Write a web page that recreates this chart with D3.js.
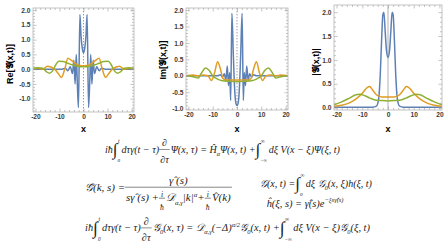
<!DOCTYPE html>
<html>
<head>
<meta charset="utf-8">
<script src="https://cdn.jsdelivr.net/npm/d3@7"></script>
<style>
  body { margin: 0; background: #fff; }
  svg { display: block; }
</style>
</head>
<body>
<svg id="chart" width="448" height="252"></svg>
<script>
// ---- data ----
const xTicks = [-20, -10, 0, 10, 20];
const xTickLabels = ['-20', '-10', '0', '10', '20'];
const xMinor = [-18, -16, -14, -12, -8, -6, -4, -2, 2, 4, 6, 8, 12, 14, 16, 18];
const yTicksReIm = [-1.0, -0.5, 0, 0.5, 1.0, 1.5, 2.0];
const yTickLabelsReIm = ['-1.0', '-0.5', '0.0', '0.5', '1.0', '1.5', '2.0'];
const yTicksAbs = [0, 0.5, 1.0, 1.5, 2.0];
const yTickLabelsAbs = ['0.0', '0.5', '1.0', '1.5', '2.0'];

// Re
const reBlueX = [-21, -9, -7.5, -6.5, -5.5, -4.6, -4.0, -3.5, -3.0, -2.6, -2.1, -1.5, -1.0, -0.5, 0, 0.5, 1.0, 1.5, 2.1, 2.6, 3.0, 3.5, 4.0, 4.6, 5.5, 6.5, 7.5, 9, 21];
const reBlueY = [0, 0, 0.03, -0.05, 0.08, -0.15, 0.3, -0.5, 0.5, -0.4, -1.3, 1.85, 1.1, 0.7, 0.55, 0.7, 1.1, 1.85, -1.3, -0.4, 0.5, -0.5, 0.3, -0.15, 0.08, -0.05, 0.03, 0, 0];
const reOrangeX = [-21, -19, -17, -15, -12, -10.5, -9.2, -7.8, -6.5, -5, -3, -1.5, 0, 1.5, 3, 5, 6.5, 7.8, 9.2, 10.5, 12, 15, 17, 19, 21];
const reOrangeY = [0.01, 0.03, 0.0, 0.1, 0.0, -0.15, -0.28, 0.0, 0.37, 0.3, 0.17, 0.12, 0.11, 0.12, 0.17, 0.3, 0.37, 0.0, -0.28, -0.15, 0.0, 0.1, 0.0, 0.03, 0.01];
const reGreenX = [-21, -19, -17, -15.5, -14.2, -12.8, -11.5, -10.3, -8.5, -6.5, -4.5, -2.5, 0, 2.5, 4.5, 6.5, 8.5, 10.3, 11.5, 12.8, 14.2, 15.5, 17, 19, 21];
const reGreenY = [0.03, 0.05, 0.03, -0.08, -0.14, -0.05, 0.15, 0.27, 0.26, 0.2, 0.14, 0.1, 0.08, 0.1, 0.14, 0.2, 0.26, 0.27, 0.15, -0.05, -0.14, -0.08, 0.03, 0.05, 0.03];

// Im
const imBlueX = [-21, -8, -6.8, -6.0, -5.2, -4.6, -4.0, -3.5, -3.0, -2.6, -2.1, -1.5, -0.9, -0.4, 0, 0.4, 0.9, 1.5, 2.1, 2.6, 3.0, 3.5, 4.0, 4.6, 5.2, 6.0, 6.8, 8, 21];
const imBlueY = [0, 0, 0.03, -0.04, 0.06, -0.15, 0.3, -0.3, 0.1, -0.75, 1.9, 0.6, -0.5, -0.85, -0.9, -0.85, -0.5, 0.6, 1.9, -0.75, 0.1, -0.3, 0.3, -0.15, 0.06, -0.04, 0.03, 0, 0];
const imOrangeX = [-21, -18, -16, -14, -12, -10.5, -9.2, -8, -6.8, -5.8, -4.5, -2.5, 0, 2.5, 4.5, 5.8, 6.8, 8, 9.2, 10.5, 12, 14, 16, 18, 21];
const imOrangeY = [0, 0.02, 0.0, 0.02, 0.0, -0.14, 0.1, 0.43, 0.2, -0.08, -0.13, -0.13, -0.13, -0.13, -0.13, -0.08, 0.2, 0.43, 0.1, -0.14, 0.0, 0.02, 0.0, 0.02, 0];
const imGreenX = [-21, -18, -16, -14.5, -13, -11.5, -10, -8, -6, -3, 0, 3, 6, 8, 10, 11.5, 13, 14.5, 16, 18, 21];
const imGreenY = [0, -0.03, -0.07, 0.1, 0.24, 0.17, 0.0, -0.1, -0.15, -0.17, -0.18, -0.17, -0.15, -0.1, 0.0, 0.17, 0.24, 0.1, -0.07, -0.03, 0];

// |.|
const absBlueX = [-21, -6, -4.5, -3.6, -3.0, -2.5, -2.0, -1.6, -1.1, -0.6, 0, 0.6, 1.1, 1.6, 2.0, 2.5, 3.0, 3.6, 4.5, 6, 21];
const absBlueY = [0.01, 0.01, 0.03, 0.2, 0.7, 1.4, 1.95, 2.0, 1.6, 1.2, 1.05, 1.2, 1.6, 2.0, 1.95, 1.4, 0.7, 0.2, 0.03, 0.01, 0.01];
const absOrangeX = [-21, -18, -15, -12, -10, -8.5, -7.2, -6, -4.5, -3, -1.5, 0, 1.5, 3, 4.5, 6, 7.2, 8.5, 10, 12, 15, 18, 21];
const absOrangeY = [0.03, 0.05, 0.1, 0.2, 0.3, 0.4, 0.44, 0.37, 0.27, 0.23, 0.22, 0.22, 0.22, 0.23, 0.27, 0.37, 0.44, 0.4, 0.3, 0.2, 0.1, 0.05, 0.03];
const absGreenX = [-21, -18, -15, -12.5, -11, -9, -7, -5, -3, 0, 3, 5, 7, 9, 11, 12.5, 15, 18, 21];
const absGreenY = [0.06, 0.12, 0.2, 0.27, 0.28, 0.25, 0.2, 0.16, 0.15, 0.14, 0.15, 0.16, 0.2, 0.25, 0.28, 0.27, 0.2, 0.12, 0.06];

const colors = { blue: '#5e81b5', orange: '#e19c24', green: '#8fb032' };

const svg = d3.select('#chart');
svg.append('rect').attr('width', 448).attr('height', 252).attr('fill', '#fff');

const zip = (xs, ys) => xs.map((x, i) => [x, ys[i]]);

function panel(o) {
  const x = d3.scaleLinear().domain([-21, 21]).range([o.left, o.right]);
  const y = d3.scaleLinear().domain(o.yDomain).range([o.bottom, o.top]);
  const g = svg.append('g');
  const id = 'clip' + o.id;

  g.append('clipPath').attr('id', id).append('rect')
    .attr('x', o.left).attr('y', o.top)
    .attr('width', o.right - o.left).attr('height', o.bottom - o.top);

  // zero line
  g.append('line')
    .attr('x1', x(0)).attr('x2', x(0))
    .attr('y1', o.top).attr('y2', o.bottom)
    .attr('stroke', o.dashed ? '#9a9a9a' : '#a8a8a8')
    .attr('stroke-width', o.dashed ? 1 : 0.9)
    .attr('stroke-dasharray', o.dashed ? '1.4,1.6' : null);

  const line = d3.line().x(d => x(d[0])).y(d => y(d[1])).curve(d3.curveMonotoneX);
  const plot = g.append('g').attr('clip-path', `url(#${id})`);
  o.series.forEach(s => {
    plot.append('path')
      .attr('d', line(zip(s.x, s.y)))
      .attr('fill', 'none')
      .attr('stroke', colors[s.c])
      .attr('stroke-width', 1.5)
      .attr('stroke-linejoin', 'round');
  });

  // frame + ticks
  const tickStyle = sel => {
    sel.select('.domain').remove();
    sel.selectAll('line').attr('stroke', '#9c9c9c').attr('stroke-width', 0.6);
    sel.selectAll('text').attr('font-family', 'Liberation Sans, Arial, sans-serif')
      .attr('font-size', 6.6).attr('font-weight', 'bold').attr('fill', '#3a3a3a');
  };
  const fmtX = d => xTickLabels[xTicks.indexOf(d)];
  const fmtY = d => o.yLabels[o.yTicks.indexOf(d)];

  g.append('g').attr('transform', `translate(0,${o.bottom})`)
    .call(d3.axisBottom(x).tickValues(xTicks).tickFormat(fmtX).tickSize(-3.5).tickPadding(2.5)).call(tickStyle);
  g.append('g').attr('transform', `translate(0,${o.bottom})`)
    .call(d3.axisBottom(x).tickValues(xMinor).tickFormat('').tickSize(-2)).call(tickStyle);
  g.append('g').attr('transform', `translate(0,${o.top})`)
    .call(d3.axisTop(x).tickValues(xTicks).tickFormat('').tickSize(-3.5)).call(tickStyle);
  g.append('g').attr('transform', `translate(0,${o.top})`)
    .call(d3.axisTop(x).tickValues(xMinor).tickFormat('').tickSize(-2)).call(tickStyle);

  g.append('g').attr('transform', `translate(${o.left},0)`)
    .call(d3.axisLeft(y).tickValues(o.yTicks).tickFormat(fmtY).tickSize(-3.5).tickPadding(2.5)).call(tickStyle);
  g.append('g').attr('transform', `translate(${o.left},0)`)
    .call(d3.axisLeft(y).tickValues(o.yMinor).tickFormat('').tickSize(-2)).call(tickStyle);
  g.append('g').attr('transform', `translate(${o.right},0)`)
    .call(d3.axisRight(y).tickValues(o.yTicks).tickFormat('').tickSize(-3.5)).call(tickStyle);
  g.append('g').attr('transform', `translate(${o.right},0)`)
    .call(d3.axisRight(y).tickValues(o.yMinor).tickFormat('').tickSize(-2)).call(tickStyle);

  g.append('rect')
    .attr('x', o.left).attr('y', o.top)
    .attr('width', o.right - o.left).attr('height', o.bottom - o.top)
    .attr('fill', 'none').attr('stroke', '#b4b4b4').attr('stroke-width', 0.8);

  // titles
  const titleFont = 'Liberation Sans, Arial, sans-serif';
  g.append('text')
    .attr('x', (o.left + o.right) / 2).attr('y', 131.5)
    .attr('text-anchor', 'middle')
    .attr('font-family', titleFont).attr('font-size', 9).attr('font-weight', 'bold')
    .text('x');
  g.append('text')
    .attr('transform', `translate(${o.titleX},${o.titleY}) rotate(-90)`)
    .attr('text-anchor', 'middle')
    .attr('font-family', titleFont).attr('font-size', 9).attr('font-weight', 'bold')
    .text(o.title);
}

const minorReIm = d3.range(-14, 21).map(v => v / 10).filter(v => Math.round(v * 10) % 5 !== 0);
const minorAbs = d3.range(1, 21).map(v => v / 10).filter(v => Math.round(v * 10) % 5 !== 0);

panel({
  id: 1, left: 33, right: 134, top: 8, bottom: 112, yDomain: [-1.45, 2.07],
  yTicks: yTicksReIm, yLabels: yTickLabelsReIm, yMinor: minorReIm, dashed: true,
  title: 'Re[𝒢(x,t)]', titleX: 13, titleY: 64,
  series: [
    { x: reBlueX, y: reBlueY, c: 'blue' },
    { x: reOrangeX, y: reOrangeY, c: 'orange' },
    { x: reGreenX, y: reGreenY, c: 'green' }
  ]
});
panel({
  id: 2, left: 186, right: 288, top: 8, bottom: 110, yDomain: [-1.04, 2.06],
  yTicks: yTicksReIm, yLabels: yTickLabelsReIm, yMinor: minorReIm.filter(v => v > -1.04), dashed: true,
  title: 'Im[𝒢(x,t)]', titleX: 166, titleY: 60,
  series: [
    { x: imBlueX, y: imBlueY, c: 'blue' },
    { x: imOrangeX, y: imOrangeY, c: 'orange' },
    { x: imGreenX, y: imGreenY, c: 'green' }
  ]
});
panel({
  id: 3, left: 334, right: 442, top: 5, bottom: 110, yDomain: [-0.05, 2.15],
  yTicks: yTicksAbs, yLabels: yTickLabelsAbs, yMinor: minorAbs, dashed: false,
  title: '|𝒢(x,t)|', titleX: 319, titleY: 62,
  series: [
    { x: absBlueX, y: absBlueY, c: 'blue' },
    { x: absOrangeX, y: absOrangeY, c: 'orange' },
    { x: absGreenX, y: absGreenY, c: 'green' }
  ]
});

// ---- equations ----
const eqFont = 'Liberation Serif, DejaVu Serif, serif';

function txt(g, x, y, s, fs, upright) {
  const t = g.append('text').attr('x', x).attr('y', y)
    .attr('font-size', fs).attr('font-style', upright ? 'normal' : 'italic').text(s);
  return t.node().getComputedTextLength();
}

function layout(g, tokens, fs) {
  let x = 0;
  tokens.forEach(t => {
    if (typeof t === 'string') {
      x += txt(g, x, 0, t, fs);
    } else if (t.sub !== undefined) {
      x += txt(g, x, fs * 0.3, t.sub, fs * 0.62);
    } else if (t.sup !== undefined) {
      x += txt(g, x, -fs * 0.42, t.sup, fs * 0.62);
    } else if (t.int) {
      const w = txt(g, x, fs * 0.28, '∫', fs * 1.7, true);
      const wh = txt(g, x + w + fs * 0.05, -fs * 0.95, t.hi, fs * 0.55);
      const wl = txt(g, x + w, fs * 0.95, t.lo, fs * 0.5);
      x += Math.max(w + fs * 0.15, w + fs * 0.05 + wh, w + wl) + fs * 0.15;
    } else if (t.frac) {
      const s = t.s || 1;
      const gn = g.append('g'), gd = g.append('g');
      const wn = layout(gn, t.num, fs * s), wd = layout(gd, t.den, fs * s);
      const w = Math.max(wn, wd) + fs * 0.2;
      gn.attr('transform', `translate(${x + (w - wn) / 2},${-fs * 0.6 * s})`);
      gd.attr('transform', `translate(${x + (w - wd) / 2},${fs * 0.75 * s + fs * 0.25})`);
      g.append('line').attr('x1', x).attr('x2', x + w)
        .attr('y1', -fs * 0.3).attr('y2', -fs * 0.3)
        .attr('stroke', '#222').attr('stroke-width', 0.5);
      x += w + fs * 0.1;
    }
  });
  return x;
}

function equation(tokens, cx, baseline, targetW) {
  const g = svg.append('g').attr('font-family', eqFont).attr('fill', '#222');
  const inner = g.append('g');
  const w = layout(inner, tokens, 10);
  const k = targetW / w;
  g.attr('transform', `translate(${cx - w * k / 2},${baseline}) scale(${k})`);
}

const ihFrac = { frac: true, num: ['∂'], den: ['∂τ'] };
const iOverHbar = { frac: true, s: 0.7, num: ['i'], den: ['ħ'] };

equation(['iħ ', { int: true, lo: '0', hi: 't' }, 'dτγ(t − τ)', ihFrac, 'Ψ(x, τ) = Ĥ', { sub: 'α' }, ' Ψ(x, t) + ',
  { int: true, lo: '−∞', hi: '∞' }, 'dξ V(x − ξ)Ψ(ξ, t)'], 222.5, 152.5, 235);

equation(['𝒢̃(k, s) = ', { frac: true, num: ['γ̂ (s)'],
  den: ['sγ̂ (s) + ', iOverHbar, '𝒟', { sub: 'α,γ' }, '|k|', { sup: 'α' }, ' + ', iOverHbar, 'V̂(k)'] }],
  159, 190.5, 148);

equation(['𝒢(x, t) = ', { int: true, lo: '0', hi: '∞' }, 'dξ 𝒢', { sub: '0' }, '(x, ξ)h(ξ, t)'], 316, 186.5, 112);
equation(['ĥ(ξ, s) = γ̂(s)e', { sup: '−ξsγ̂(s)' }], 305, 206.5, 77);

equation(['iħ ', { int: true, lo: '0', hi: 't' }, 'dτγ(t − τ)', ihFrac, '𝒢', { sub: '0' }, '(x, τ) = 𝒟', { sub: 'α,γ' },
  '(−Δ)', { sup: 'α/2' }, '𝒢', { sub: '0' }, '(x, t) + ', { int: true, lo: '−∞', hi: '∞' },
  'dξ V(x − ξ)𝒢', { sub: '0' }, '(ξ, t)'], 227.5, 231, 285);
</script>
</body>
</html>
